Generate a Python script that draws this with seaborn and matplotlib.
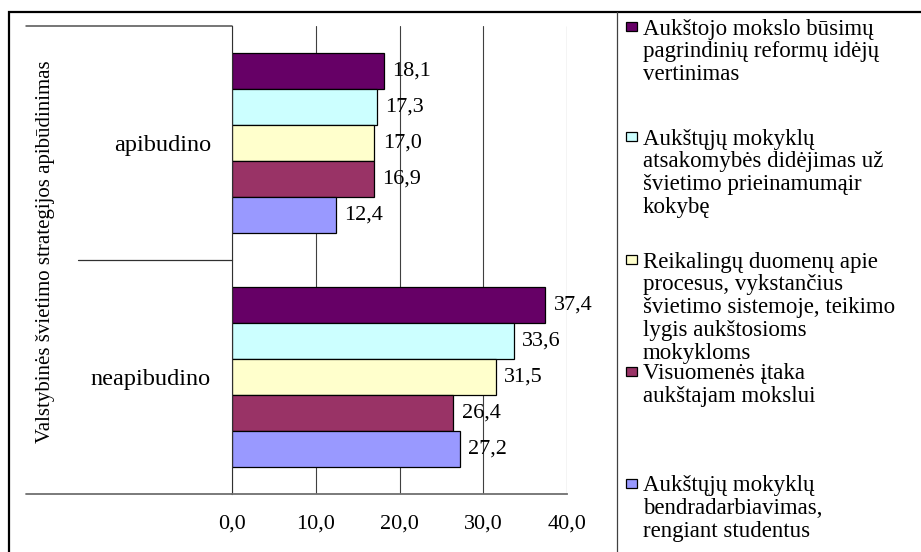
import numpy as np
import pandas as pd
import matplotlib
matplotlib.use("Agg")
import matplotlib.pyplot as plt
import matplotlib.patches as mpatches
from matplotlib.lines import Line2D
from matplotlib.ticker import FuncFormatter, FixedLocator
import seaborn as sns

# ---------------- data ----------------
categories = ["apibudino", "neapibudino"]
series_names = [
    "Aukštojo mokslo būsimų\npagrindinių reformų idėjų\nvertinimas",
    "Aukštųjų mokyklų\natsakomybės didėjimas už\nšvietimo prieinamumąir\nkokybę",
    "Reikalingų duomenų apie\nprocesus, vykstančius\nšvietimo sistemoje, teikimo\nlygis aukštosioms\nmokykloms",
    "Visuomenės įtaka\naukštajam mokslui",
    "Aukštųjų mokyklų\nbendradarbiavimas,\nrengiant studentus",
]
values_s1 = [18.1, 37.4]
values_s2 = [17.3, 33.6]
values_s3 = [17.0, 31.5]
values_s4 = [16.9, 26.4]
values_s5 = [12.4, 27.2]
colors = ["#660066", "#CCFFFF", "#FFFFCC", "#993366", "#9999FF"]
x_ticks = [0, 10, 20, 30, 40]
y_label = "Valstybinės švietimo strategijos apibūdinimas"

all_values = [values_s1, values_s2, values_s3, values_s4, values_s5]
rows = []
for name, vals in zip(series_names, all_values):
    for cat, v in zip(categories, vals):
        rows.append({"category": cat, "series": name, "value": v})
df = pd.DataFrame(rows)

# ---------------- style ----------------
sns.set_style("white")
plt.rcParams["font.family"] = ["Liberation Serif", "DejaVu Serif"]

W, H = 921, 552
fig = plt.figure(figsize=(W / 100, H / 100), dpi=100)
fig.patch.set_facecolor("white")

def fx(px):
    return px / W

def fy(py):
    return 1 - py / H

ax_left, ax_right, ax_top, ax_bottom = 231.8, 567.3, 26.0, 494.0
ax = fig.add_axes([fx(ax_left), fy(ax_bottom), fx(ax_right - ax_left), (ax_bottom - ax_top) / H])

sns.barplot(
    data=df, y="category", x="value", hue="series", orient="h",
    order=categories, hue_order=series_names, palette=colors,
    width=0.767, edgecolor="black", linewidth=0.9, saturation=1,
    legend=False, ax=ax,
)

ax.set_xlim(0, 40)
ax.set_ylim(1.5, -0.5)
ax.xaxis.set_major_locator(FixedLocator(x_ticks))
ax.xaxis.set_major_formatter(FuncFormatter(lambda v, p: f"{v:.1f}".replace(".", ",")))
ax.xaxis.grid(True, color="#404040", linewidth=0.8)
ax.yaxis.grid(False)
ax.set_axisbelow(True)
ax.tick_params(axis="x", direction="out", length=4, width=0.8, color="#404040",
               labelsize=16, pad=10.5, labelcolor="black")
ax.tick_params(axis="y", length=0, labelsize=17.5, pad=15, labelcolor="black")
ax.set_xlabel("")
ax.set_ylabel(y_label, fontsize=15, color="black")
ax.yaxis.set_label_coords((55 - ax_left) / (ax_right - ax_left), (ax_bottom - 251.5) / (ax_bottom - ax_top))

for s in ["top", "right"]:
    ax.spines[s].set_visible(False)
ax.spines["left"].set_color("#303030")
ax.spines["left"].set_linewidth(0.8)
ax.spines["bottom"].set_color("#707070")
ax.spines["bottom"].set_linewidth(1.3)

# value labels
for cont, vals in zip(ax.containers, all_values):
    ax.bar_label(cont, labels=[f"{v:.1f}".replace(".", ",") for v in vals],
                 padding=6, fontsize=16, color="black")

# category boundary lines extending to the left
def axfrac(px):
    return (px - ax_left) / (ax_right - ax_left)

blend = matplotlib.transforms.blended_transform_factory(ax.transAxes, ax.transData)
for y0, xstart, col, lw in [(-0.5, 26, "#505050", 1.1), (0.5, 78, "#303030", 0.9), (1.5, 26, "#707070", 1.3)]:
    ax.add_line(Line2D([axfrac(xstart), 0], [y0, y0], transform=blend, color=col,
                       linewidth=lw, clip_on=False))

# outer frame
fig.add_artist(mpatches.Rectangle((fx(9), fy(560)), 1.0, (560 - 11.5) / H, transform=fig.transFigure,
                                  facecolor="none", edgecolor="black", linewidth=1.6))
# legend box border
fig.add_artist(Line2D([fx(616.7), fx(616.7)], [fy(11.5), fy(560)], transform=fig.transFigure,
                      color="#404040", linewidth=0.9))

# legend entries
marker_centers = [26, 136, 259, 371, 483]
for name, col, cy in zip(series_names, colors, marker_centers):
    fig.add_artist(mpatches.Rectangle((fx(626), fy(cy + 4.5)), fx(10.5), 9 / H,
                                      transform=fig.transFigure, facecolor=col,
                                      edgecolor="black", linewidth=0.9))
    fig.text(fx(643), fy(cy - 7.5), name, fontsize=16.5, va="top", ha="left",
             linespacing=1.12, color="black")

fig.savefig("out.png", dpi=100, facecolor="white")
